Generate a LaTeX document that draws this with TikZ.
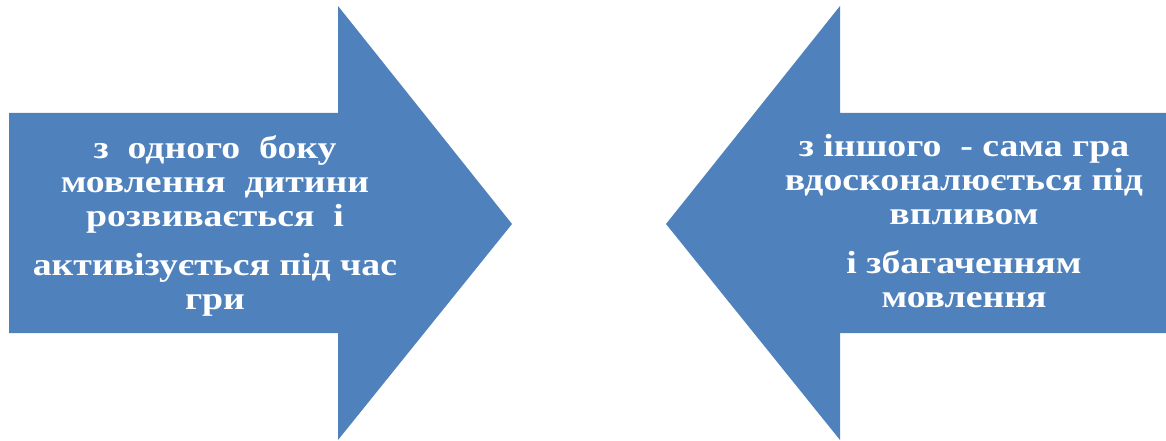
\documentclass[tikz,border=0pt]{standalone}
\usepackage{fontspec}
\setmainfont{Liberation Serif}
\newfontfamily\arrowfont[FakeStretch=1.18]{Liberation Serif}
\definecolor{arrowblue}{HTML}{4F81BD}
\tikzset{
    ba body/.style={fill=arrowblue, draw=none},
    ba text/.style={font=\arrowfont\fontsize{32}{34}\selectfont\bfseries,
                    text=white, align=center, inner sep=0pt, anchor=north},
}

\begin{document}
\begin{tikzpicture}[x=1pt, y=-1pt]
    \useasboundingbox (0,0) rectangle (1166,441);
    % Left arrow (points right)
    \fill[ba body] (9,113) -- (338,113) -- (338,6) -- (512,224)
        -- (338,440) -- (338,333) -- (9,333) -- cycle;
    % Right arrow (points left)
    \fill[ba body] (1166,113) -- (840,113) -- (840,6) -- (666,224)
        -- (840,440) -- (840,333) -- (1166,333) -- cycle;
    % Texts
    \node[ba text] (lefttext) at (215,135)
        {з~~одного~~боку\\мовлення~~дитини\\розвивається~~і\\[15pt]
         активізується~під~час\\гри};
    \node[ba text] (righttext) at (964,134)
        {з~іншого~~-~сама~гра\\вдосконалюється~під\\впливом\\[15pt]
         і~збагаченням\\мовлення};
\end{tikzpicture}
\end{document}
